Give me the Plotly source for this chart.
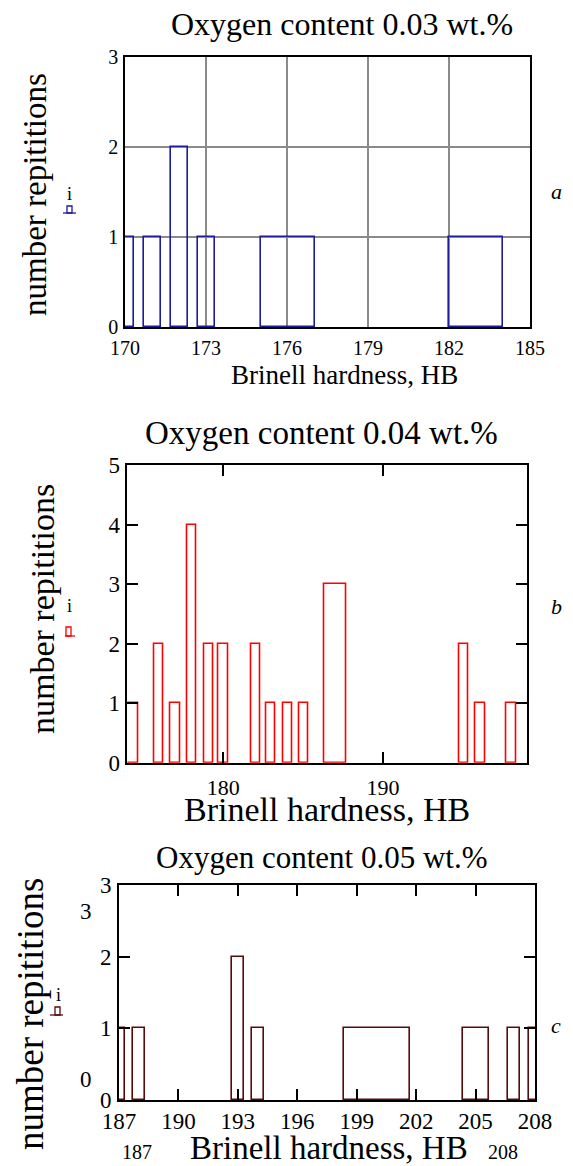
import plotly.graph_objects as go

W, H = 573, 1166
SERIF = "Liberation Serif"

# Oxygen 0.03 wt.% -- bar edges (HB) and counts
hb_lo_a = [169.70, 170.72, 171.70, 172.72, 175.04, 181.99]
hb_hi_a = [170.35, 171.35, 172.35, 173.35, 177.04, 183.99]
count_a = [1, 1, 2, 1, 1, 1]

# Oxygen 0.04 wt.%
hb_lo_b = [173.60, 175.68, 176.72, 177.75, 178.79, 179.71, 181.79, 182.71,
           183.75, 184.76, 186.35, 194.76, 195.81, 197.75]
hb_hi_b = [174.71, 176.26, 177.31, 178.33, 179.36, 180.30, 182.35, 183.29,
           184.32, 185.36, 187.69, 195.34, 196.39, 198.34]
count_b = [1, 2, 1, 4, 2, 2, 2, 1, 1, 1, 3, 2, 1, 1]

# Oxygen 0.05 wt.%
hb_lo_c = [186.70, 187.69, 192.70, 193.71, 198.35, 204.35, 206.65, 207.68]
hb_hi_c = [187.30, 188.30, 193.29, 194.30, 201.68, 205.66, 207.24, 208.30]
count_c = [1, 1, 2, 1, 1, 1, 1, 1]

ticks_a_x = [170, 173, 176, 179, 182, 185]
ticks_a_y = [0, 1, 2, 3]
ticks_b_x = [180, 190]
ticks_b_y = [0, 1, 2, 3, 4, 5]
ticks_c_x = [187, 190, 193, 196, 199, 202, 205, 208]
ticks_c_y = [0, 1, 2, 3]

titles = ["Oxygen content 0.03 wt.%", "Oxygen content 0.04 wt.%", "Oxygen content 0.05 wt.%"]
colors = ["#1c1c9c", "#ff0000", "#5a0a0a"]


def px(x, y):
    return x / W, 1 - y / H


def bars(lo, hi, counts, color, n):
    mids = [(a + b) / 2 for a, b in zip(lo, hi)]
    widths = [b - a for a, b in zip(lo, hi)]
    return go.Bar(
        x=mids, y=counts, width=widths, base=0,
        marker=dict(color="rgba(0,0,0,0)", line=dict(color=color, width=1.6)),
        xaxis="x" + ("" if n == 1 else str(n)),
        yaxis="y" + ("" if n == 1 else str(n)),
        showlegend=False, hoverinfo="x+y",
    )


fig = go.Figure()
fig.add_trace(bars(hb_lo_a, hb_hi_a, count_a, colors[0], 1))
fig.add_trace(bars(hb_lo_b, hb_hi_b, count_b, colors[1], 2))
fig.add_trace(bars(hb_lo_c, hb_hi_c, count_c, colors[2], 3))

# plot areas in pixels: (left, right, top, bottom)
boxes = [(125, 530, 57, 327), (127.3, 526.7, 465, 762.7), (119, 535, 885, 1100)]
doms = []
for l, r, t, b in boxes:
    doms.append(([l / W, r / W], [1 - b / H, 1 - t / H]))

frame = dict(showline=True, linecolor="black", linewidth=1.6, mirror=True,
             zeroline=False, fixedrange=True, automargin=False)
inside = dict(showgrid=False, ticks="inside", ticklen=11, tickwidth=1.6,
              tickcolor="black", showline=True, linecolor="black", linewidth=1.6,
              mirror="allticks", zeroline=False, fixedrange=True, automargin=False)

fig.update_layout(
    template="none",
    width=W, height=H,
    margin=dict(l=0, r=0, t=0, b=0, pad=0),
    paper_bgcolor="white", plot_bgcolor="white",
    font=dict(family=SERIF, color="black"),
    bargap=0,
    showlegend=False,
    xaxis=dict(domain=doms[0][0], anchor="y", range=[170, 185], tickvals=ticks_a_x,
               showgrid=True, gridcolor="#8a8a8a", gridwidth=1.5, ticks="",
               tickfont=dict(size=20), ticklabelstandoff=2, **frame),
    yaxis=dict(domain=doms[0][1], anchor="x", range=[0, 3], tickvals=ticks_a_y,
               showgrid=True, gridcolor="#8a8a8a", gridwidth=1.5, ticks="",
               tickfont=dict(size=20), ticklabelstandoff=1, **frame),
    xaxis2=dict(domain=doms[1][0], anchor="y2", range=[174, 199], tickvals=ticks_b_x,
                tickfont=dict(size=22), ticklabelstandoff=4, **inside),
    yaxis2=dict(domain=doms[1][1], anchor="x2", range=[0, 5], tickvals=ticks_b_y,
                tickfont=dict(size=23), ticklabelstandoff=1, **inside),
    xaxis3=dict(domain=doms[2][0], anchor="y3", range=[187, 208], tickvals=ticks_c_x,
                tickfont=dict(size=23), ticklabelstandoff=0, **inside),
    yaxis3=dict(domain=doms[2][1], anchor="x3", range=[0, 3], tickvals=ticks_c_y,
                tickfont=dict(size=23), ticklabelstandoff=1, **inside),
)

ann = []


def text(x, y, s, size, angle=0):
    xp, yp = px(x, y)
    ann.append(dict(x=xp, y=yp, xref="paper", yref="paper", text=s, showarrow=False,
                    xanchor="center", yanchor="middle", textangle=angle,
                    font=dict(family=SERIF, size=size, color="black")))


# titles
text(342, 24, titles[0], 32)
text(321, 433, titles[1], 33)
text(321, 858, titles[2], 31)
# x-axis titles
text(344, 375, "Brinell hardness, HB", 27)
text(327, 809, "Brinell hardness, HB", 34)
text(329, 1148, "Brinell hardness, HB", 33)
# y-axis titles
text(35, 195, "number repititions", 33, -90)
text(43, 609, "number repititions", 34, -90)
text(31, 1014, "number repititions", 37, -90)
# trace legend "i"
text(69.5, 194, "i", 18)
text(69, 606, "i", 18)
text(58, 995, "i", 18)
# panel letters
text(556, 191, "<i>a</i>", 22)
text(556, 606, "<i>b</i>", 22)
text(556, 1025, "<i>c</i>", 22)
# axis limit labels of panel c
text(86, 911, "3", 23)
text(86, 1079, "0", 23)
text(137, 1152, "187", 20)
text(503, 1152, "208", 20)

shapes = []
# small legend glyphs: (rect x0, x1, top, base, line x0, x1)
glyphs = [(67, 72, 206, 213, 63, 76), (66, 71, 627, 636, 65, 75), (55, 60, 1007, 1015, 50, 63)]
for (x0, x1, t, b, l0, l1), c in zip(glyphs, colors):
    a0, bt = px(x0, t)
    a1, bb = px(x1, b)
    shapes.append(dict(type="rect", xref="paper", yref="paper", x0=a0, x1=a1, y0=bb, y1=bt,
                       line=dict(color=c, width=1.3)))
    l0p, _ = px(l0, b)
    l1p, _ = px(l1, b)
    shapes.append(dict(type="line", xref="paper", yref="paper", x0=l0p, x1=l1p, y0=bb, y1=bb,
                       line=dict(color=c, width=1.3)))

fig.update_layout(annotations=ann, shapes=shapes)
# drop the default body margin so the figure sits at the page origin
fig.write_html("out.html", config={"displayModeBar": False},
               post_script="document.body.style.margin='0';document.body.style.overflow='hidden';")
